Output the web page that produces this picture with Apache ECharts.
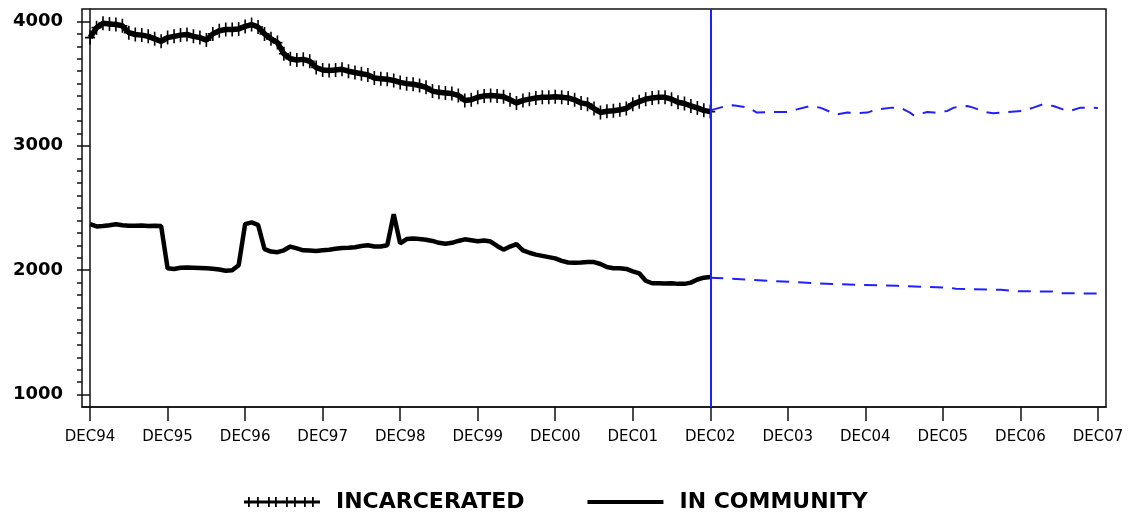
<!DOCTYPE html>
<html lang="en" style="height: 100%">
<head>
  <meta charset="UTF-8" />
  <title>Incarcerated / In community</title>
  <script src="https://cdn.jsdelivr.net/npm/echarts@6/dist/echarts.min.js"></script>
</head>
<body style="height: 100%; margin: 0; background: #fff">
  <div id="main" style="width: 1132px; height: 516px"></div>
  <script type="text/javascript">
    // month index 0 = DEC94, one label every 12 months
    var xLabels = ['DEC94', 'DEC95', 'DEC96', 'DEC97', 'DEC98', 'DEC99', 'DEC00',
      'DEC01', 'DEC02', 'DEC03', 'DEC04', 'DEC05', 'DEC06', 'DEC07'];
    var yLabels = [1000, 2000, 3000, 4000];

    // actual monthly counts DEC94 .. DEC02 (97 months)
    var incarcerated = [
      3870, 3950, 3985, 3980, 3975, 3965, 3910, 3895, 3890, 3880, 3860, 3840,
      3870, 3880, 3890, 3895, 3880, 3870, 3850, 3900, 3925, 3935, 3935, 3940,
      3960, 3975, 3955, 3900, 3860, 3830, 3740, 3700, 3690, 3695, 3680, 3630,
      3610, 3605, 3610, 3615, 3600, 3590, 3580, 3570, 3545, 3540, 3535, 3525,
      3510, 3500, 3495, 3485, 3470, 3440, 3430, 3425, 3420, 3405, 3365, 3370,
      3390, 3400, 3405, 3400, 3395, 3370, 3345, 3365, 3375, 3385, 3390, 3390,
      3395, 3390, 3385, 3370, 3345, 3335, 3300, 3268, 3278, 3282, 3290, 3300,
      3335, 3355, 3375, 3385, 3390, 3390, 3375, 3350, 3340, 3320, 3305, 3285,
      3275
    ];
    var inCommunity = [
      2370, 2352, 2355, 2362, 2370, 2362, 2358, 2357, 2360, 2355, 2357, 2355,
      2015, 2010, 2020, 2022, 2020, 2018, 2015, 2012, 2005, 1995, 2000, 2040,
      2370, 2385, 2365, 2170, 2150, 2145, 2160, 2190, 2175, 2160, 2158, 2155,
      2160, 2165, 2172, 2178, 2180, 2185, 2195, 2200, 2190, 2190, 2200, 2450,
      2215, 2250, 2255, 2250, 2245, 2235, 2220, 2212, 2220, 2235, 2248, 2240,
      2232, 2238, 2230, 2195, 2165, 2190, 2210, 2160, 2140, 2125, 2115, 2105,
      2095, 2075, 2062, 2060, 2062, 2065, 2065, 2050, 2025, 2015, 2015, 2010,
      1990, 1975, 1915, 1895, 1895, 1893, 1895, 1890, 1890, 1900, 1925, 1940,
      1945
    ];

    // forecasts DEC02 .. DEC07, [month index, value]
    var incarceratedFcst = [
      [96, 3285], [97.5, 3307], [99.5, 3326], [102, 3307], [103.2, 3267], [105.5, 3272],
      [108, 3272], [109.4, 3293], [111.5, 3320], [113, 3307], [114.6, 3272], [115.6, 3253],
      [117.2, 3267], [118.7, 3262], [120.3, 3267], [121.8, 3293], [124.1, 3307], [125.4, 3307],
      [126.9, 3267], [127.5, 3245], [129.6, 3272], [130.6, 3267], [132.7, 3280], [133.7, 3307],
      [135.8, 3320], [136.7, 3307], [138.5, 3272], [139.8, 3261], [141.9, 3272], [144.4, 3280],
      [146, 3307], [147.5, 3334], [149.1, 3320], [150.6, 3293], [151.7, 3280], [153.3, 3307],
      [156, 3305]
    ];
    var inCommunityFcst = [
      [96, 1940], [105, 1915], [115, 1888], [125, 1874], [133, 1860], [134, 1850],
      [141, 1842], [143, 1832], [149, 1828], [150, 1815], [156, 1812]
    ];
    var forecastStart = 96;

    function toPairs(arr) {
      return arr.map(function (v, i) { return [i, v]; });
    }
    var majorX = xLabels.map(function (d, i) { return i * 12; });
    var minorY = [];
    for (var v = 1000; v <= 4000; v += 100) minorY.push(v);

    var plusSymbol = 'path://M4.2 0H5.8V14H4.2Z M0 6.2H10V7.8H0Z';
    // legend icons (tiny slivers at top/bottom keep the icon box 12 px tall)
    var iconCross = 'path://M0 0H0.01V0.01H0Z M0 12H0.01V11.99H0Z M0 4.5H76V7.5H0Z' +
      ' M4 1H5.8V11H4Z M13 1H14.8V11H13Z M24 1H25.8V11H24Z M31 1H32.8V11H31Z' +
      ' M42 1H43.8V11H42Z M50 1H51.8V11H50Z M60 1H61.8V11H60Z M68 1H69.8V11H68Z';
    var iconThick = 'path://M0 0H0.01V0.01H0Z M0 12H0.01V11.99H0Z M0 4H76V8H0Z';

    var blue = '#2020ff';

    var myChart = echarts.init(document.getElementById('main'));
    var option = {
      animation: false,
      backgroundColor: '#fff',
      grid: {
        left: 82, right: 26, top: 9, bottom: 109,
        show: true, borderColor: '#111', borderWidth: 1.5,
        outerBoundsMode: 'none'
      },
      legend: {
        left: 239, top: 486,
        itemWidth: 76, itemHeight: 12, itemGap: 63,
        data: [
          { name: 'INCARCERATED', icon: iconCross },
          { name: 'IN COMMUNITY', icon: iconThick }
        ],
        textStyle: {
          fontFamily: 'DejaVu Sans', fontWeight: 'bold', fontSize: 22,
          color: '#000', padding: [0, 0, 0, 11]
        },
        itemStyle: { color: '#000' }
      },
      xAxis: {
        type: 'value', min: -1.25, max: 157.25,
        splitLine: { show: false },
        axisLine: { show: true, lineStyle: { color: '#111', width: 1.5 } },
        axisTick: { show: true, customValues: majorX, length: 14, lineStyle: { color: '#111', width: 1.5 } },
        axisLabel: {
          customValues: majorX, margin: 23,
          fontFamily: 'DejaVu Sans', fontSize: 15, color: '#000',
          formatter: function (val) { return xLabels[Math.round(val / 12)]; }
        }
      },
      yAxis: [{
        type: 'value', min: 900, max: 4100,
        splitLine: { show: false },
        axisLine: { show: true, lineStyle: { color: '#111', width: 1.5 } },
        axisTick: { show: true, customValues: yLabels, length: 9, lineStyle: { color: '#111', width: 1.5 } },
        axisLabel: {
          customValues: yLabels, margin: 19,
          fontFamily: 'DejaVu Sans', fontWeight: 'bold', fontSize: 18, color: '#000',
          formatter: function (val) { return String(val); }
        }
      }, {
        type: 'value', min: 900, max: 4100, position: 'left',
        splitLine: { show: false },
        axisLine: { show: false },
        axisLabel: { show: false },
        axisTick: { show: true, customValues: minorY, length: 5, lineStyle: { color: '#111', width: 1.5 } }
      }],
      series: [
        {
          name: 'INCARCERATED', type: 'line',
          data: toPairs(incarcerated),
          symbol: plusSymbol, symbolSize: [10, 14], showSymbol: true,
          itemStyle: { color: '#000' },
          lineStyle: { color: '#000', width: 5.5 },
          z: 3
        },
        {
          name: 'IN COMMUNITY', type: 'line',
          data: toPairs(inCommunity),
          symbol: 'none',
          itemStyle: { color: '#000' },
          lineStyle: { color: '#000', width: 4.5 },
          z: 3
        },
        {
          name: 'INCARCERATED forecast', type: 'line',
          data: incarceratedFcst, symbol: 'none',
          lineStyle: { color: blue, width: 2, type: [13, 9] }
        },
        {
          name: 'IN COMMUNITY forecast', type: 'line',
          data: inCommunityFcst, symbol: 'none',
          lineStyle: { color: blue, width: 2, type: [13, 9] },
          markLine: {
            silent: true, symbol: 'none', label: { show: false },
            lineStyle: { color: blue, width: 2, type: 'solid' },
            data: [{ xAxis: forecastStart }]
          }
        }
      ]
    };
    myChart.setOption(option);
    window.addEventListener('resize', myChart.resize);
  </script>
</body>
</html>
